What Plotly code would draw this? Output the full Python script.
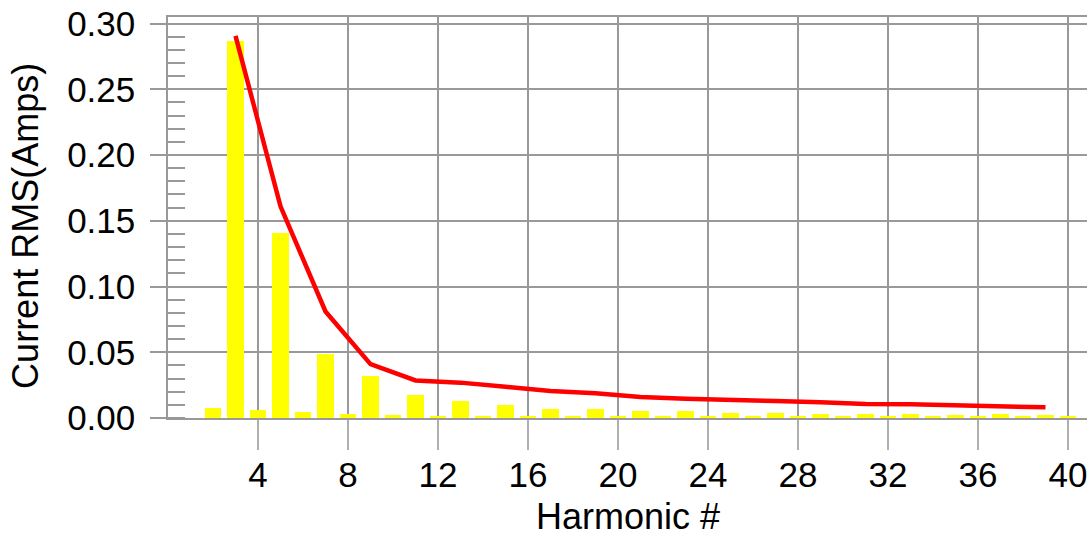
import plotly.graph_objects as go

harmonics = list(range(2, 41))
bar_values = [0.0074, 0.287, 0.0062, 0.141, 0.0047, 0.0488, 0.0032, 0.0323, 0.0021, 0.0173,
              0.0017, 0.0133, 0.0010, 0.0100, 0.0019, 0.0072, 0.0017, 0.0072, 0.0019, 0.0057,
              0.0011, 0.0054, 0.0011, 0.0037, 0.0011, 0.0037, 0.0011, 0.0032, 0.0011, 0.0027,
              0.0011, 0.0027, 0.0011, 0.0025, 0.0011, 0.0027, 0.0011, 0.0023, 0.0011]

odd_harmonics = list(range(3, 40, 2))
limit_values = [0.2906, 0.161, 0.081, 0.041, 0.0286, 0.0269, 0.0238, 0.0205, 0.0188, 0.0160,
                0.0147, 0.0134, 0.0129, 0.0119, 0.0106, 0.0104, 0.0096, 0.0089, 0.0081]

x_ticks = list(range(4, 41, 4))
y_ticks = [0.0, 0.05, 0.10, 0.15, 0.20, 0.25, 0.30]

FONT = "Arial, Liberation Sans, Helvetica, sans-serif"
GRID = "#999999"

fig = go.Figure()
fig.add_trace(go.Bar(x=harmonics, y=bar_values, width=0.75,
                     marker=dict(color="#ffff00", line=dict(width=0)),
                     showlegend=False))
fig.add_trace(go.Scatter(x=odd_harmonics, y=limit_values, mode="lines",
                         line=dict(color="#ff0000", width=4.5),
                         showlegend=False))

fig.update_layout(
    template="none",
    width=1087, height=533,
    margin=dict(l=168, r=0, t=17, b=115, autoexpand=False),
    paper_bgcolor="white", plot_bgcolor="white",
    font=dict(family=FONT, color="black"),
    xaxis=dict(range=[0, 40.844], tickvals=x_ticks, ticktext=[str(v) for v in x_ticks],
               showgrid=True, gridcolor=GRID, gridwidth=1.5,
               ticks="outside", ticklen=30, tickcolor="#b0b0b0", tickwidth=1.5,
               tickfont=dict(size=35, family=FONT, color="black"),
               ticklabeloverflow="allow", ticklabelstandoff=-5,
               showline=True, mirror=True, linecolor=GRID, linewidth=1.5,
               zeroline=False, fixedrange=True, automargin=False),
    yaxis=dict(range=[0, 0.305], tickvals=y_ticks, ticktext=["%.2f" % v for v in y_ticks],
               showgrid=True, gridcolor=GRID, gridwidth=1.5,
               ticks="outside", ticklen=16, tickcolor=GRID, tickwidth=1.5,
               tickfont=dict(size=35, family=FONT, color="black"),
               ticklabelstandoff=8,
               showline=True, linecolor=GRID, linewidth=1.5,
               zeroline=False,
               minor=dict(ticks="inside", ticklen=17, dtick=0.01, tickcolor=GRID,
                          tickwidth=1.5, showgrid=False),
               fixedrange=True, automargin=False),
    bargap=0,
    annotations=[
        dict(text="Harmonic #", xref="paper", yref="paper", x=0.5, y=-0.245,
             xanchor="center", yanchor="middle", showarrow=False,
             font=dict(size=36, family=FONT, color="black")),
        dict(text="Current RMS(Amps)", xref="paper", yref="paper", x=-0.155, y=0.478,
             xanchor="center", yanchor="middle", showarrow=False, textangle=-90,
             font=dict(size=36, family=FONT, color="black")),
    ],
)

fig.write_html("out.html", config={"displayModeBar": False},
               post_script="document.body.style.margin='0';document.body.style.padding='0';")
